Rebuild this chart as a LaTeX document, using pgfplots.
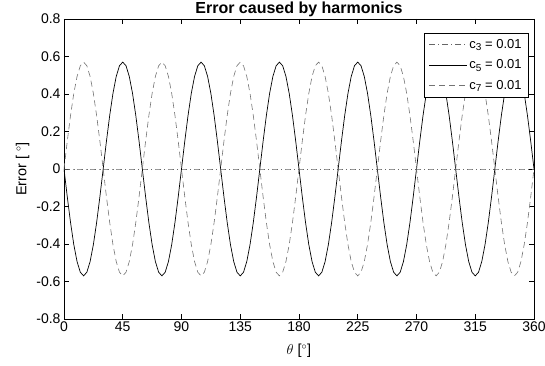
\documentclass[border=0pt]{standalone}
\usepackage{pgfplots}
\pgfplotsset{compat=1.18}
\usepackage{pgfplotstable}
\usepackage{fontspec}
\setmainfont{Liberation Sans}

\pgfplotstableread{
x c3 c5 c7
0 0 0 0
2.5 0 -0.1475 0.1475
5 0 -0.2850 0.2850
7.5 0 -0.4031 0.4031
10 0 -0.4936 0.4936
12.5 0 -0.5506 0.5506
15 0 -0.5700 0.5700
17.5 0 -0.5506 0.5506
20 0 -0.4936 0.4936
22.5 0 -0.4031 0.4031
25 0 -0.2850 0.2850
27.5 0 -0.1475 0.1475
30 0 0 0
32.5 0 0.1475 -0.1475
35 0 0.2850 -0.2850
37.5 0 0.4031 -0.4031
40 0 0.4936 -0.4936
42.5 0 0.5506 -0.5506
45 0 0.5700 -0.5700
47.5 0 0.5506 -0.5506
50 0 0.4936 -0.4936
52.5 0 0.4031 -0.4031
55 0 0.2850 -0.2850
57.5 0 0.1475 -0.1475
60 0 0 0
62.5 0 -0.1475 0.1475
65 0 -0.2850 0.2850
67.5 0 -0.4031 0.4031
70 0 -0.4936 0.4936
72.5 0 -0.5506 0.5506
75 0 -0.5700 0.5700
77.5 0 -0.5506 0.5506
80 0 -0.4936 0.4936
82.5 0 -0.4031 0.4031
85 0 -0.2850 0.2850
87.5 0 -0.1475 0.1475
90 0 0 0
92.5 0 0.1475 -0.1475
95 0 0.2850 -0.2850
97.5 0 0.4031 -0.4031
100 0 0.4936 -0.4936
102.5 0 0.5506 -0.5506
105 0 0.5700 -0.5700
107.5 0 0.5506 -0.5506
110 0 0.4936 -0.4936
112.5 0 0.4031 -0.4031
115 0 0.2850 -0.2850
117.5 0 0.1475 -0.1475
120 0 0 0
122.5 0 -0.1475 0.1475
125 0 -0.2850 0.2850
127.5 0 -0.4031 0.4031
130 0 -0.4936 0.4936
132.5 0 -0.5506 0.5506
135 0 -0.5700 0.5700
137.5 0 -0.5506 0.5506
140 0 -0.4936 0.4936
142.5 0 -0.4031 0.4031
145 0 -0.2850 0.2850
147.5 0 -0.1475 0.1475
150 0 0 0
152.5 0 0.1475 -0.1475
155 0 0.2850 -0.2850
157.5 0 0.4031 -0.4031
160 0 0.4936 -0.4936
162.5 0 0.5506 -0.5506
165 0 0.5700 -0.5700
167.5 0 0.5506 -0.5506
170 0 0.4936 -0.4936
172.5 0 0.4031 -0.4031
175 0 0.2850 -0.2850
177.5 0 0.1475 -0.1475
180 0 0 0
182.5 0 -0.1475 0.1475
185 0 -0.2850 0.2850
187.5 0 -0.4031 0.4031
190 0 -0.4936 0.4936
192.5 0 -0.5506 0.5506
195 0 -0.5700 0.5700
197.5 0 -0.5506 0.5506
200 0 -0.4936 0.4936
202.5 0 -0.4031 0.4031
205 0 -0.2850 0.2850
207.5 0 -0.1475 0.1475
210 0 0 0
212.5 0 0.1475 -0.1475
215 0 0.2850 -0.2850
217.5 0 0.4031 -0.4031
220 0 0.4936 -0.4936
222.5 0 0.5506 -0.5506
225 0 0.5700 -0.5700
227.5 0 0.5506 -0.5506
230 0 0.4936 -0.4936
232.5 0 0.4031 -0.4031
235 0 0.2850 -0.2850
237.5 0 0.1475 -0.1475
240 0 0 0
242.5 0 -0.1475 0.1475
245 0 -0.2850 0.2850
247.5 0 -0.4031 0.4031
250 0 -0.4936 0.4936
252.5 0 -0.5506 0.5506
255 0 -0.5700 0.5700
257.5 0 -0.5506 0.5506
260 0 -0.4936 0.4936
262.5 0 -0.4031 0.4031
265 0 -0.2850 0.2850
267.5 0 -0.1475 0.1475
270 0 0 0
272.5 0 0.1475 -0.1475
275 0 0.2850 -0.2850
277.5 0 0.4031 -0.4031
280 0 0.4936 -0.4936
282.5 0 0.5506 -0.5506
285 0 0.5700 -0.5700
287.5 0 0.5506 -0.5506
290 0 0.4936 -0.4936
292.5 0 0.4031 -0.4031
295 0 0.2850 -0.2850
297.5 0 0.1475 -0.1475
300 0 0 0
302.5 0 -0.1475 0.1475
305 0 -0.2850 0.2850
307.5 0 -0.4031 0.4031
310 0 -0.4936 0.4936
312.5 0 -0.5506 0.5506
315 0 -0.5700 0.5700
317.5 0 -0.5506 0.5506
320 0 -0.4936 0.4936
322.5 0 -0.4031 0.4031
325 0 -0.2850 0.2850
327.5 0 -0.1475 0.1475
330 0 0 0
332.5 0 0.1475 -0.1475
335 0 0.2850 -0.2850
337.5 0 0.4031 -0.4031
340 0 0.4936 -0.4936
342.5 0 0.5506 -0.5506
345 0 0.5700 -0.5700
347.5 0 0.5506 -0.5506
350 0 0.4936 -0.4936
352.5 0 0.4031 -0.4031
355 0 0.2850 -0.2850
357.5 0 0.1475 -0.1475
360 0 0 0
}\datatable

\newcommand{\sub}[1]{\raisebox{-0.35ex}{\fontsize{10}{10}\selectfont #1}}

\begin{document}
\begin{tikzpicture}
\begin{axis}[
  scale only axis,
  width=470pt, height=300pt,
  xmin=0, xmax=360, ymin=-0.8, ymax=0.8,
  xtick={0,45,...,360},
  ytick={-0.8,-0.6,...,0.8},
  yticklabels={-0.8,-0.6,-0.4,-0.2,0,0.2,0.4,0.6,0.8},
  tick align=inside,
  major tick length=5pt,
  axis line style={line width=0.6pt},
  tick style={line width=0.6pt, black},
  /pgf/number format/assume math mode=true,
  tick label style={font=\fontsize{14}{16}\selectfont},
  xticklabel style={yshift=1pt},
  yticklabel style={xshift=0pt},
  title={\textbf{Error caused by harmonics}},
  title style={font=\fontsize{16}{18}\selectfont, yshift=-7pt},
  xlabel={$\theta$ [$^\circ$]},
  ylabel={Error [ $^\circ$]},
  label style={font=\fontsize{14.5}{16}\selectfont},
  xlabel style={yshift=-6pt},
  ylabel style={yshift=0pt},
  legend style={at={(0.989,0.953)}, anchor=north east, draw=black, fill=white,
    font=\fontsize{13}{15}\selectfont, inner xsep=5pt, inner ysep=4pt, row sep=6pt,
    legend cell align=left},
  legend image code/.code={\draw[#1] (0pt,0pt) -- (38pt,0pt);},
]
\addplot[black!60, line width=0.6pt, dash pattern=on 6pt off 3pt on 1pt off 3pt] table[x=x,y=c3] {\datatable};
\addlegendentry{c\sub{3} = 0.01}
\addplot[black, line width=0.7pt] table[x=x,y=c5] {\datatable};
\addlegendentry{c\sub{5} = 0.01}
\addplot[black!55, line width=0.6pt, dash pattern=on 6pt off 4pt] table[x=x,y=c7] {\datatable};
\addlegendentry{c\sub{7} = 0.01}
\end{axis}
\pgfresetboundingbox
\path ([shift={(-64pt,-47pt)}]current axis.south west) rectangle ([shift={(11pt,19pt)}]current axis.north east);
\end{tikzpicture}
\end{document}
